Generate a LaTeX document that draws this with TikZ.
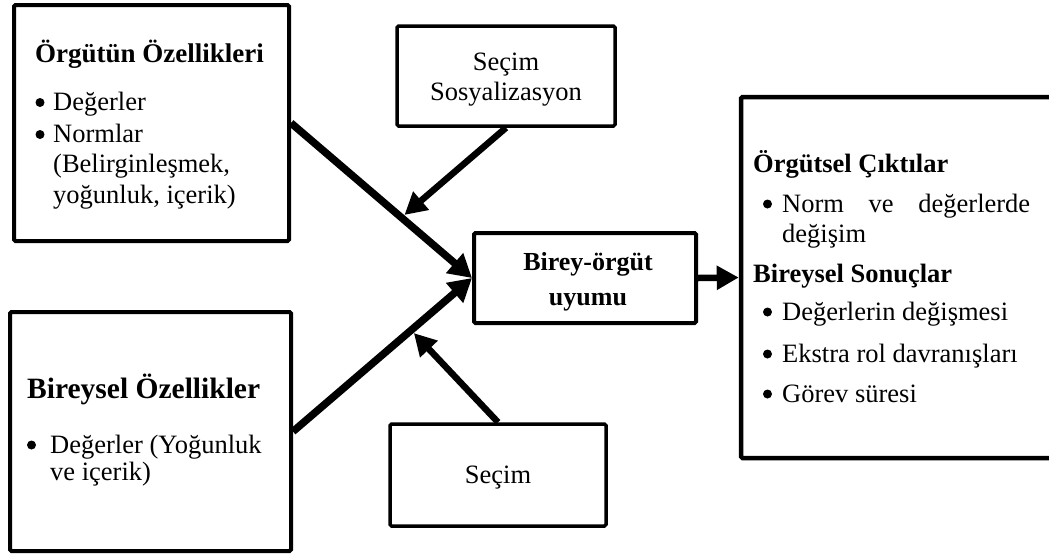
\documentclass[tikz,border=0pt]{standalone}
\usepackage{fontspec}
\setmainfont{Liberation Serif}
\usetikzlibrary{arrows.meta}
\tikzset{
  box/.style={draw=black, line width=4pt, rectangle, rounded corners=1.5pt, inner sep=0pt, fill=white},
  thinbox/.style={box, line width=3.5pt},
  txt/.style={anchor=base west, inner sep=0pt, font=\fontsize{26.5}{31}\selectfont},
  ctxt/.style={anchor=base, inner sep=0pt, font=\fontsize{26.5}{31}\selectfont},
  head/.style={anchor=base west, inner sep=0pt, font=\fontsize{27}{32}\selectfont\bfseries},
  bighead/.style={anchor=base west, inner sep=0pt, font=\fontsize{29.5}{34}\selectfont\bfseries},
  rhead/.style={anchor=base west, inner sep=0pt, font=\fontsize{26.5}{31}\selectfont\bfseries},
  dot/.style={fill=black},
  bigarrow/.style={line width=7.5pt, -{Triangle[length=23pt,width=25pt]}},
  midarrow/.style={line width=6.5pt, -{Triangle[length=22pt,width=23pt]}, shorten >=4pt},
  outarrow/.style={line width=6.5pt, -{Triangle[length=22pt,width=23pt]}},
}
\begin{document}
\begin{tikzpicture}[x=1pt,y=-1pt]
\useasboundingbox (0,0) rectangle (1049,555);
% boxes
\node[box, minimum width=275pt, minimum height=236pt] (b1) at (151.5,123) {};
\node[thinbox, minimum width=218pt, minimum height=100pt] (b2) at (506,76) {};
\node[box, minimum width=222pt, minimum height=90pt] (ctr) at (585,278) {};
\node[box, line width=4.5pt, minimum width=321pt, minimum height=361pt] (rb) at (901.5,277.5) {};
\node[box, minimum width=281pt, minimum height=239pt] (b4) at (150.5,431.5) {};
\node[thinbox, minimum width=216pt, minimum height=102pt] (b5) at (498,475) {};
% box 1 text
\node[head] (t1h) at (35,62) {Örgütün Özellikleri};
\fill[dot] (40,102.5) circle (4.5pt);
\node[txt] (t1a) at (53,110) {Değerler};
\fill[dot] (40,134.5) circle (4.5pt);
\node[txt] (t1b) at (53,142) {Normlar};
\node[txt] (t1c) at (53,172) {(Belirginleşmek,};
\node[txt] (t1d) at (53,203) {yoğunluk, içerik)};
% box 2 text
\node[ctxt] (t2a) at (506,70) {Seçim};
\node[ctxt] (t2b) at (506,100) {Sosyalizasyon};
% center text
\node[anchor=base, inner sep=0pt, font=\fontsize{26}{31}\selectfont\bfseries] (tca) at (588,270) {Birey-örgüt};
\node[anchor=base, inner sep=0pt, font=\fontsize{26}{31}\selectfont\bfseries] (tcb) at (588,305) {uyumu};
% right box text
\node[rhead] (trh1) at (753,172) {Örgütsel Çıktılar};
\fill[dot] (767.5,204) circle (4.5pt);
\node[txt] (tra) at (782,212) {\makebox[248pt][s]{Norm ve değerlerde}};
\node[txt] (trb) at (782,242) {değişim};
\node[rhead] (trh2) at (753,282) {Bireysel Sonuçlar};
\fill[dot] (767.5,312) circle (4.5pt);
\node[txt] (trc) at (782,320) {Değerlerin değişmesi};
\fill[dot] (767.5,354) circle (4.5pt);
\node[txt] (trd) at (782,362) {Ekstra rol davranışları};
\fill[dot] (767.5,394) circle (4.5pt);
\node[txt] (tre) at (782,402) {Görev süresi};
% box 4 text
\node[bighead] (t4h) at (27,398) {Bireysel Özellikler};
\fill[dot] (31.5,445) circle (4.5pt);
\node[txt] (t4a) at (50,453) {Değerler (Yoğunluk};
\node[txt] (t4b) at (50,480) {ve içerik)};
% box 5 text
\node[ctxt] (t5a) at (498,483) {Seçim};
% arrows
\draw[bigarrow] (b1.east) -- coordinate[pos=0.61] (m1) (ctr.west);
\draw[bigarrow] (b4.east) -- coordinate[pos=0.66] (m2) (ctr.west);
\draw[midarrow] (b2.south) -- (m1);
\draw[midarrow] (b5.north) -- (m2);
\draw[outarrow] (ctr.east) -- (rb.west);
\end{tikzpicture}
\end{document}
